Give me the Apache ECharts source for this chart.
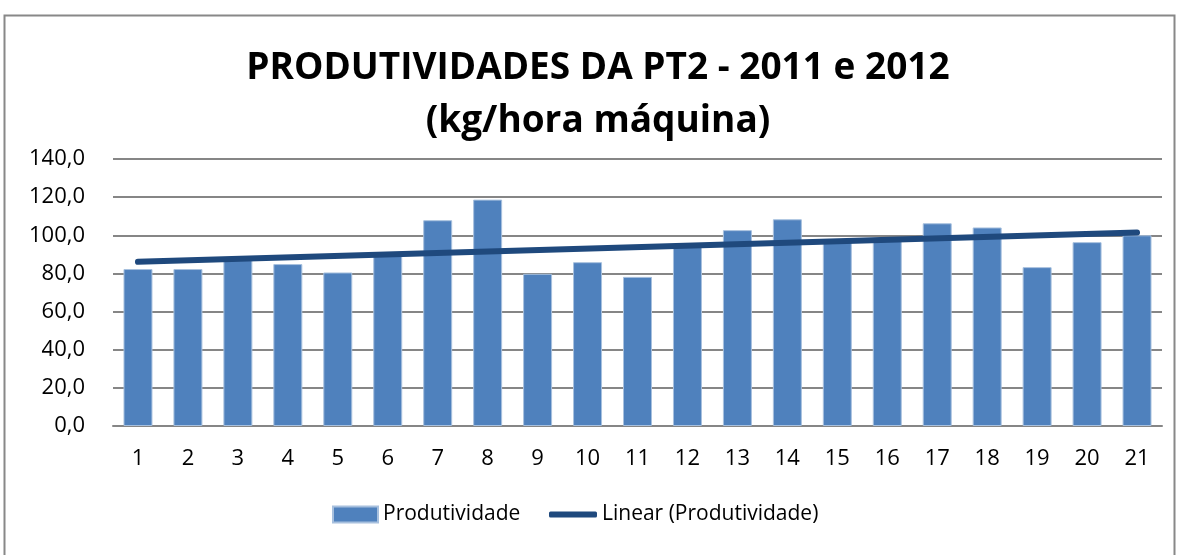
<!DOCTYPE html>
<html>
<head>
<meta charset="utf-8">
<script src="https://cdn.jsdelivr.net/npm/echarts@6/dist/echarts.min.js"></script>
<style>
  html, body { margin: 0; padding: 0; background: #fff; }
  #main { width: 1178px; height: 555px; }
</style>
</head>
<body>
<div id="main"></div>
<script>
// categorias (1..21)
var categorias = ['1','2','3','4','5','6','7','8','9','10','11','12','13','14','15','16','17','18','19','20','21'];
// produtividade kg/hora maquina
var produtividade = [82.3, 82.3, 87.0, 84.9, 80.5, 89.5, 107.9, 118.7, 79.8, 85.9, 78.2,
                     94.0, 102.7, 108.4, 96.5, 97.0, 106.3, 104.1, 83.3, 96.4, 100.0];
// linha de tendencia (pontos inicial e final)
var tendencia = [[0, 86.1], [20, 101.4]];

var fonte = 'Open Sans';

var myChart = echarts.init(document.getElementById('main'));
var option = {
  animation: false,
  backgroundColor: '#fff',
  graphic: [{
    type: 'rect',
    shape: { x: 4.5, y: 15.5, width: 1170, height: 600 },
    style: { fill: 'none', stroke: '#888', lineWidth: 2 },
    silent: true
  }],
  title: {
    text: 'PRODUTIVIDADES DA PT2 - 2011 e 2012\n(kg/hora máquina)',
    left: 593,
    top: 37,
    textAlign: 'center',
    textStyle: {
      fontFamily: fonte,
      fontWeight: 'bold',
      fontSize: 37,
      lineHeight: 53,
      color: '#000',
      align: 'center'
    }
  },
  legend: [{
    data: ['Produtividade'],
    left: 327,
    top: 499,
    icon: 'rect',
    itemWidth: 45,
    itemHeight: 16,
    itemGap: 4,
    textStyle: { fontFamily: fonte, fontSize: 21, color: '#000' }
  }, {
    data: ['Linear (Produtividade)'],
    left: 544,
    top: 499,
    icon: 'roundRect',
    itemWidth: 48,
    itemHeight: 6,
    textStyle: { fontFamily: fonte, fontSize: 21, color: '#000' }
  }],
  grid: {
    left: 113,
    right: 16,
    top: 159,
    bottom: 129
  },
  xAxis: {
    type: 'category',
    data: categorias,
    axisTick: { show: false },
    axisLine: { lineStyle: { color: '#868686', width: 2 } },
    axisLabel: { margin: 22, fontFamily: fonte, fontSize: 22, color: '#000' }
  },
  yAxis: {
    type: 'value',
    min: 0,
    max: 140,
    interval: 20,
    axisLine: { show: false },
    axisTick: { show: false },
    splitLine: { lineStyle: { color: '#868686', width: 2 } },
    axisLabel: {
      margin: 28,
      fontFamily: fonte,
      fontSize: 22,
      color: '#000',
      formatter: function (v) { return v.toFixed(1).replace('.', ','); }
    }
  },
  series: [{
    name: 'Produtividade',
    type: 'bar',
    data: produtividade,
    barWidth: '58%',
    itemStyle: { color: '#4F81BD', borderColor: '#A7C0DE', borderWidth: 1 }
  }, {
    name: 'Linear (Produtividade)',
    type: 'line',
    data: tendencia,
    symbol: 'none',
    itemStyle: { color: '#1F497D' },
    lineStyle: { color: '#1F497D', width: 6, cap: 'round' }
  }]
};
myChart.setOption(option);
</script>
</body>
</html>
